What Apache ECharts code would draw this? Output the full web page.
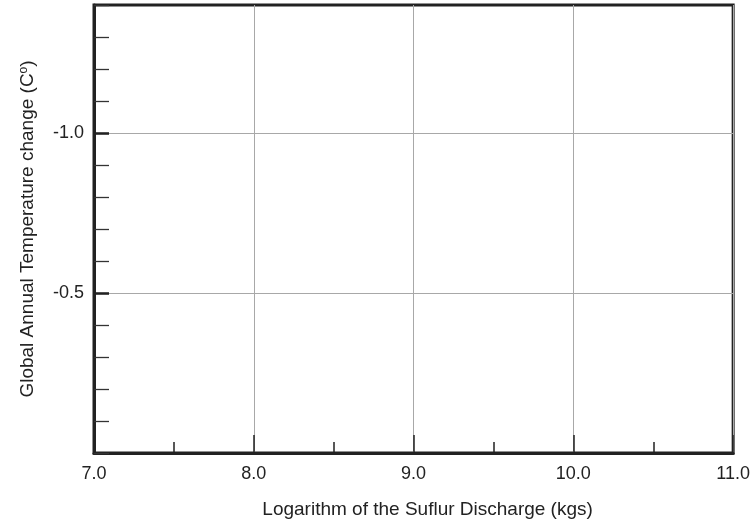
<!DOCTYPE html>
<html><head><meta charset="utf-8">
<script src="https://cdn.jsdelivr.net/npm/echarts@6/dist/echarts.min.js"></script>
<style>html,body{margin:0;padding:0;background:#fff}#c{width:753px;height:524px}</style>
</head><body><div id="c"></div>
<script>
const xMin = 7.0, xMax = 11.0, xStep = 1;
const yMin = -1.4, yMax = 0.0, yMinorStep = 0.1;
const yMajorValues = [-1.0, -0.5];
const seriesData = [];
const xTitle = 'Logarithm of the Suflur Discharge (kgs)';
const yTitle = 'Global Annual Temperature change (C{sup|o})';

const FONT = 'Liberation Sans, Arial, Helvetica, sans-serif';
const INK = '#222';
const GRIDC = '#a8a8a8';
const chart = echarts.init(document.getElementById('c'), null, {renderer: 'canvas'});
chart.setOption({
  animation: false,
  backgroundColor: '#fff',
  grid: {left: 94, right: 14, top: 5, bottom: 67, show: true, borderColor: INK, borderWidth: 3, containLabel: false},
  xAxis: {
    type: 'value', min: xMin, max: xMax, interval: xStep,
    name: xTitle, nameLocation: 'middle', nameGap: 47,
    nameTextStyle: {fontFamily: FONT, fontSize: 19, color: INK, padding: [0, 0, 0, 28]},
    axisLine: {show: true, lineStyle: {color: INK, width: 3}},
    axisTick: {show: true, inside: true, length: 18, lineStyle: {color: INK, width: 1.5}},
    minorTick: {show: true, splitNumber: 2, length: 11, lineStyle: {color: INK, width: 1.5}},
    axisLabel: {fontFamily: FONT, fontSize: 18, color: INK, margin: 12, formatter: v => v.toFixed(1)},
    splitLine: {show: true, lineStyle: {color: GRIDC, width: 1}}
  },
  yAxis: [{
    type: 'value', min: yMin, max: yMax, interval: yMinorStep, inverse: true,
    name: yTitle, nameLocation: 'middle', nameGap: 56,
    nameTextStyle: {fontFamily: FONT, fontSize: 19, color: INK,
      rich: {sup: {fontFamily: FONT, fontSize: 12, color: INK, verticalAlign: 'top', padding: [0, 0, 8, 0]}}},
    axisLine: {show: true, lineStyle: {color: INK, width: 3}},
    axisTick: {show: true, inside: true, length: 15, lineStyle: {color: '#333', width: 1.3}},
    axisLabel: {show: false},
    splitLine: {show: false}
  }, {
    type: 'value', min: yMin, max: yMax, inverse: true, position: 'left',
    axisLine: {show: false},
    axisTick: {show: true, inside: true, length: 15, customValues: yMajorValues, lineStyle: {color: INK, width: 2.5}},
    axisLabel: {show: true, customValues: yMajorValues, fontFamily: FONT, fontSize: 18, color: INK, margin: 10, formatter: v => v.toFixed(1)},
    splitLine: {show: true, lineStyle: {color: GRIDC, width: 1}}
  }],
  series: [{type: 'scatter', xAxisIndex: 0, yAxisIndex: 0, data: seriesData}]
});
</script></body></html>
